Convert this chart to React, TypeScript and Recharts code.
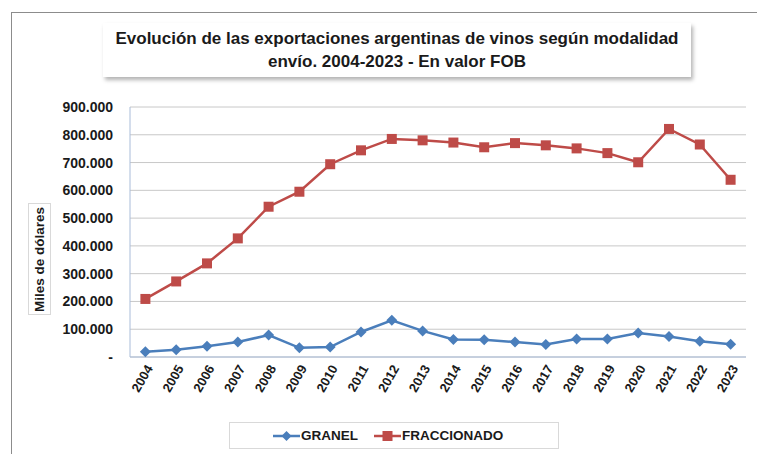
import React from 'react';
import { LineChart, Line, XAxis, YAxis, CartesianGrid, Legend } from 'recharts';

const years = ['2004', '2005', '2006', '2007', '2008', '2009', '2010', '2011', '2012', '2013',
  '2014', '2015', '2016', '2017', '2018', '2019', '2020', '2021', '2022', '2023'];
const granel = [19000, 26000, 39000, 54000, 79000, 33000, 36000, 90000, 132000, 94000,
  63000, 62000, 54000, 45000, 65000, 65000, 86000, 74000, 57000, 46000];
const fraccionado = [209000, 272000, 337000, 427000, 541000, 595000, 694000, 744000, 785000, 780000,
  772000, 755000, 770000, 762000, 751000, 734000, 701000, 821000, 765000, 638000];
const yTicks = [0, 100000, 200000, 300000, 400000, 500000, 600000, 700000, 800000, 900000];

const data = years.map((year, i) => ({ year, GRANEL: granel[i], FRACCIONADO: fraccionado[i] }));

const FONT = '"Liberation Sans", Arial, sans-serif';
const BLUE = '#4a7ebb';
const RED = '#be4b48';

const fmt = (v: number) => (v === 0 ? '-' : v.toLocaleString('es-AR'));

const Diamond = (props: any) => {
  const { cx, cy } = props;
  if (cx == null || cy == null) return null;
  const r = 5.5;
  return <polygon points={`${cx},${cy - r} ${cx + r},${cy} ${cx},${cy + r} ${cx - r},${cy}`} fill={BLUE} />;
};

const Square = (props: any) => {
  const { cx, cy } = props;
  if (cx == null || cy == null) return null;
  return <rect x={cx - 5} y={cy - 5} width={10} height={10} fill={RED} />;
};

const XTick = (props: any) => {
  const { x, y, payload } = props;
  const ax = x + 4;
  const ay = y + 9;
  return (
    <text x={ax} y={ay} dy="0.35em" textAnchor="end" transform={`rotate(-60, ${ax}, ${ay})`}
      fontFamily={FONT} fontWeight="bold" fontSize={13} fill="#1a1a1a">
      {payload.value}
    </text>
  );
};

const LegendBox = () => (
  <div style={{
    height: 27, boxSizing: 'border-box', border: '1px solid #d9d9d9', background: '#fff',
    display: 'flex', alignItems: 'center', justifyContent: 'flex-start', paddingLeft: 43,
    fontFamily: FONT, fontWeight: 'bold', fontSize: 13.5, color: '#1a1a1a',
  }}>
    <svg width={27} height={12}>
      <line x1={0} y1={6} x2={27} y2={6} stroke={BLUE} strokeWidth={2.5} />
      <polygon points="13.5,1 18.5,6 13.5,11 8.5,6" fill={BLUE} />
    </svg>
    <span style={{ marginLeft: 1 }}>GRANEL</span>
    <svg width={27} height={12} style={{ marginLeft: 16 }}>
      <line x1={0} y1={6} x2={27} y2={6} stroke={RED} strokeWidth={2.5} />
      <rect x={8.5} y={1} width={10} height={10} fill={RED} />
    </svg>
    <span style={{ marginLeft: 1 }}>FRACCIONADO</span>
  </div>
);

export default function App() {
  return (
    <div style={{ position: 'fixed', left: 0, top: 0, width: 757, height: 454, background: '#fff', overflow: 'hidden' }}>
      {/* marco exterior */}
      <div style={{ position: 'absolute', left: 11, top: 12, width: 780, height: 480, border: '1px solid #8c8c8c' }} />

      <LineChart width={757} height={454} data={data} margin={{ top: 107, right: 11, bottom: 0, left: 0 }}
        style={{ position: 'absolute', left: 0, top: 0 }}>
        <CartesianGrid vertical={false} stroke="#c8c8c8" strokeWidth={1} />
        <XAxis dataKey="year" height={70} interval={0} tickLine={false} tickSize={0} tickMargin={0}
          axisLine={{ stroke: '#a9bcd9' }} padding={{ left: 15.4, right: 15.4 }} tick={<XTick />} />
        <YAxis width={130} domain={[0, 900000]} ticks={yTicks} tickFormatter={fmt} tickLine={false}
          tickSize={8} tickMargin={9} axisLine={{ stroke: '#a9bcd9' }}
          tick={{ fontFamily: FONT, fontWeight: 'bold', fontSize: 14, fill: '#1a1a1a' }} />
        <YAxis yAxisId="right" orientation="right" width={0} tick={false} tickLine={false}
          axisLine={{ stroke: '#a9bcd9' }} domain={[0, 900000]} />
        <Legend verticalAlign="bottom" content={<LegendBox />}
          wrapperStyle={{ left: 229, width: 330, bottom: 5, height: 27 }} />
        <Line dataKey="GRANEL" stroke={BLUE} strokeWidth={2.5} dot={<Diamond />} activeDot={false}
          isAnimationActive={false} />
        <Line dataKey="FRACCIONADO" stroke={RED} strokeWidth={2.5} dot={<Square />} activeDot={false}
          isAnimationActive={false} />
      </LineChart>

      {/* titulo */}
      <div style={{
        position: 'absolute', left: 103, top: 23, width: 588, height: 54, background: '#fff',
        boxShadow: '2px 3px 4px rgba(0,0,0,0.3)', display: 'flex', flexDirection: 'column',
        alignItems: 'center', justifyContent: 'center', fontFamily: FONT, fontWeight: 'bold',
        fontSize: 17, lineHeight: '23px', color: '#1a1a1a', whiteSpace: 'nowrap',
      }}>
        <div>Evolución de las exportaciones argentinas de vinos según modalidad</div>
        <div>envío. 2004-2023 - En valor FOB</div>
      </div>

      {/* titulo eje Y */}
      <div style={{
        position: 'absolute', left: 28, top: 203, width: 23, height: 112, boxSizing: 'border-box',
        border: '1px solid #d9d9d9', display: 'flex', alignItems: 'center', justifyContent: 'center',
      }}>
        <div style={{
          transform: 'rotate(-90deg)', whiteSpace: 'nowrap', fontFamily: FONT, fontWeight: 'bold',
          fontSize: 13.5, color: '#1a1a1a',
        }}>Miles de dólares</div>
      </div>
    </div>
  );
}
